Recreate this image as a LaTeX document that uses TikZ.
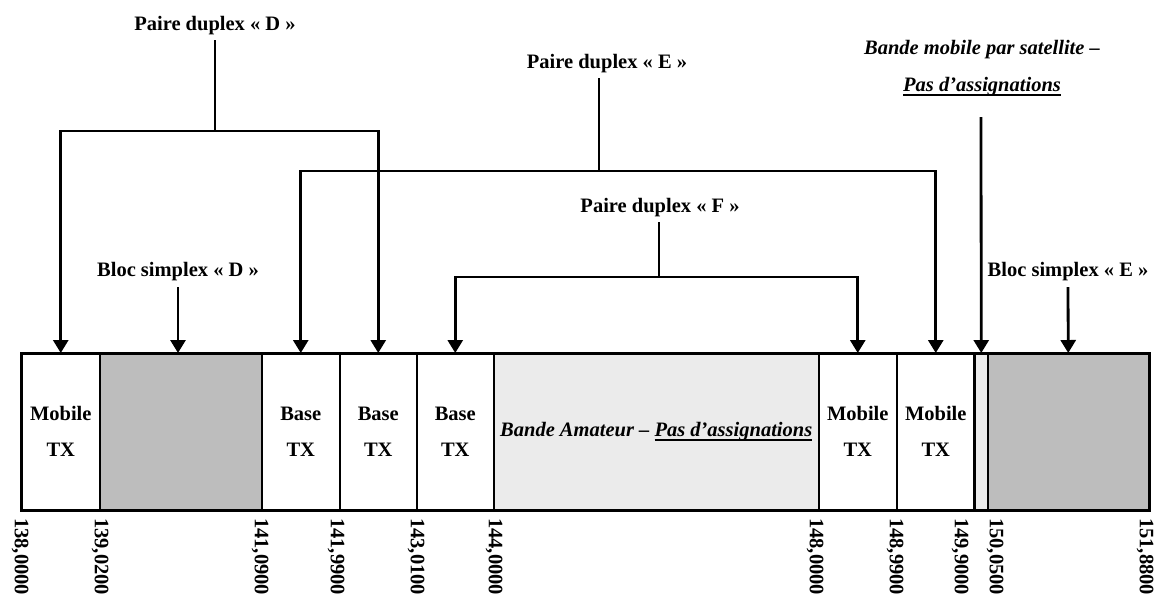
\documentclass[tikz,border=0pt]{standalone}
\usepackage{fontspec}
\setmainfont{Liberation Serif}
\usetikzlibrary{arrows.meta}
\definecolor{darkband}{HTML}{BDBDBD}
\definecolor{lightband}{HTML}{EBEBEB}
\newcommand\myul[1]{\setbox0\hbox{#1}\rlap{\rule[-4.5pt]{\wd0}{1.7pt}}\box0}
\tikzset{
 lbl/.style={font=\bfseries\fontsize{20.5}{24}\selectfont, inner sep=0pt, anchor=base},
 cell/.style={draw, line width=1.5pt, inner sep=0pt, anchor=north west, minimum height=156pt, align=center, font=\bfseries\fontsize{20.5}{36}\selectfont},
 ticklbl/.style={font=\bfseries\fontsize{20.5}{24}\selectfont, rotate=-90, anchor=west, inner sep=0pt},
 conn/.style={line width=2.8pt},
 arr/.style={conn, -{Triangle[width=15pt,length=13pt]}},
 darr/.style={conn, {Triangle[width=15pt,length=13pt]}-{Triangle[width=15pt,length=13pt]}},
}
\begin{document}
\begin{tikzpicture}[x=1pt,y=-1pt]
\useasboundingbox (0,0) rectangle (1155,595);
% band cells
\node[cell, minimum width=78pt] (c1) at (21,353) {Mobile\\TX};
\node[cell, minimum width=162pt, fill=darkband] (c2) at (99,353) {};
\node[cell, minimum width=78pt] (c3) at (261,353) {Base\\TX};
\node[cell, minimum width=77pt] (c4) at (339,353) {Base\\TX};
\node[cell, minimum width=77pt] (c5) at (416,353) {Base\\TX};
\node[cell, minimum width=325pt, fill=lightband] (c6) at (493,353) {\textit{Bande Amateur – \myul{Pas d’assignations}}};
\node[cell, minimum width=78pt] (c7) at (818,353) {Mobile\\TX};
\node[cell, minimum width=78pt] (c8) at (896,353) {Mobile\\TX};
\node[cell, minimum width=13pt, fill=lightband] (c9) at (974,353) {};
\node[cell, minimum width=161pt, fill=darkband] (c10) at (987,353) {};
\draw[line width=2.5pt] (c1.north west) rectangle (c10.south east);
\draw[line width=2.5pt] (c9.north west) -- (c9.south west);
% tick labels
\node[ticklbl] (t1) at (20,518) {138,0000};
\node[ticklbl] (t2) at (100,518) {139,0200};
\node[ticklbl] (t3) at (260,518) {141,0900};
\node[ticklbl] (t4) at (336,518) {141,9900};
\node[ticklbl] (t5) at (416,518) {143,0100};
\node[ticklbl] (t6) at (494,518) {144,0000};
\node[ticklbl] (t7) at (815,518) {148,0000};
\node[ticklbl] (t8) at (895,518) {148,9900};
\node[ticklbl] (t9) at (960,518) {149,9000};
\node[ticklbl] (t10) at (995,518) {150,0500};
\node[ticklbl] (t11) at (1145,518) {151,8800};
% labels
\node[lbl] (pD) at (215,30) {Paire duplex « D »};
\node[lbl] (pE) at (607,68) {Paire duplex « E »};
\node[lbl] (pF) at (660,212) {Paire duplex « F »};
\node[lbl] (bD) at (178,276) {Bloc simplex « D »};
\node[lbl] (bE) at (1068,276) {Bloc simplex « E »};
\node[lbl] (sat1) at (982,54) {\textit{Bande mobile par satellite –}};
\node[lbl] (sat2) at (982,91) {\textit{\myul{Pas d’assignations}}};
% junction coordinates
\coordinate (sD) at (215,40);
\coordinate (jD) at (215,131);
\coordinate (sE) at (599,78);
\coordinate (jE) at (599,171);
\coordinate (sF) at (659,222);
\coordinate (jF) at (659,277);
\coordinate (sS) at (981,117);
\coordinate (sbD) at (178,287);
\coordinate (sbE) at (1068,287);
% connectors
\draw[conn] (sD) -- (jD);
\draw[darr] (c1.north) |- (jD) -| (c4.north);
\draw[conn] (sE) -- (jE);
\draw[darr] (c3.north) |- (jE) -| (c8.north);
\draw[conn] (sF) -- (jF);
\draw[darr] (c5.north) |- (jF) -| (c7.north);
\draw[arr] (sS) -- (c9.north);
\draw[arr] (sbD) -- (sbD |- c2.north);
\draw[arr] (sbE) -- (c10.north);
\end{tikzpicture}
\end{document}
